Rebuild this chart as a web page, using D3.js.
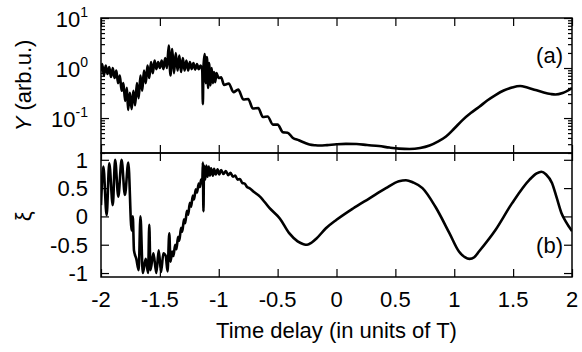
<!DOCTYPE html>
<html>
<head>
<meta charset="utf-8">
<script src="https://cdn.jsdelivr.net/npm/d3@7"></script>
<style>
    body { margin: 0; background: #fff; }
    text { font-family: "Liberation Sans", Arial, Helvetica, sans-serif; fill: #000; }
</style>
</head>
<body>
<div id="graph"></div>
<script>
// panel (a): Y (arb.u.) vs time delay, log scale
const delayA = [
    -2.00, -1.99, -1.975, -1.96, -1.945, -1.93, -1.915, -1.90, -1.885, -1.87,
    -1.855, -1.84, -1.825, -1.81, -1.795, -1.78, -1.77, -1.755, -1.74, -1.725,
    -1.71, -1.695, -1.68, -1.665, -1.65, -1.635, -1.62, -1.605, -1.59, -1.575,
    -1.56, -1.545, -1.53, -1.515, -1.50, -1.485, -1.47, -1.455, -1.44, -1.425,
    -1.41, -1.395, -1.38, -1.365, -1.35, -1.335, -1.32, -1.305, -1.29, -1.275,
    -1.26, -1.245, -1.23, -1.215, -1.20, -1.185, -1.17, -1.155, -1.14, -1.135,
    -1.13, -1.12, -1.11, -1.10, -1.09, -1.08, -1.07, -1.06, -1.05, -1.04,
    -1.03, -1.02, -1.00, -0.98, -0.955, -0.915, -0.875, -0.835, -0.79, -0.75,
    -0.71, -0.665, -0.625, -0.585, -0.54, -0.50, -0.455, -0.415, -0.37, -0.32,
    -0.27, -0.23, -0.18, -0.14, -0.08, 0.00, 0.08, 0.17, 0.26, 0.36,
    0.45, 0.53, 0.62, 0.71, 0.79, 0.86, 0.93, 1.00, 1.07, 1.14,
    1.21, 1.28, 1.35, 1.42, 1.49, 1.56, 1.62, 1.69, 1.76, 1.82,
    1.86, 1.92, 2.00
];
const yieldA = [
    0.89, 1.20, 0.71, 1.12, 0.76, 1.05, 0.66, 1.00, 0.63, 0.89,
    0.50, 0.71, 0.35, 0.50, 0.22, 0.40, 0.145, 0.32, 0.15, 0.35,
    0.18, 0.50, 0.25, 0.71, 0.35, 0.89, 0.50, 1.12, 0.63, 1.32,
    0.79, 1.41, 0.95, 1.32, 1.00, 1.41, 0.95, 1.58, 1.00, 2.8,
    0.71, 2.4, 0.79, 2.0, 0.89, 1.78, 0.83, 1.58, 0.89, 1.41,
    0.89, 1.32, 0.95, 1.26, 0.93, 1.20, 0.95, 1.12, 0.89, 0.19,
    1.00, 1.9, 0.50, 1.66, 0.40, 1.26, 0.45, 1.00, 0.50, 0.83,
    0.52, 0.79, 0.63, 0.65, 0.46, 0.49, 0.33, 0.37, 0.234, 0.24,
    0.155, 0.158, 0.105, 0.107, 0.074, 0.074, 0.052, 0.051, 0.040, 0.036,
    0.032, 0.0295, 0.0285, 0.0282, 0.0288, 0.0299, 0.0305, 0.0302, 0.0288, 0.0275,
    0.0257, 0.0245, 0.0240, 0.0251, 0.0282, 0.0339, 0.0427, 0.0617, 0.091, 0.126,
    0.166, 0.224, 0.288, 0.355, 0.407, 0.437, 0.407, 0.363, 0.324, 0.302,
    0.295, 0.316, 0.398
];

// panel (b): xi vs time delay
const delayB = [
    -2.00, -1.98, -1.952, -1.93, -1.90, -1.88, -1.853, -1.825, -1.797, -1.768,
    -1.74, -1.73, -1.72, -1.70, -1.68, -1.665, -1.645, -1.62, -1.60, -1.59,
    -1.58, -1.555, -1.53, -1.51, -1.49, -1.47, -1.45, -1.435, -1.42, -1.41,
    -1.395, -1.385, -1.37, -1.36, -1.345, -1.335, -1.32, -1.31, -1.295, -1.285,
    -1.27, -1.26, -1.245, -1.235, -1.22, -1.21, -1.195, -1.185, -1.17, -1.16,
    -1.15, -1.14, -1.135, -1.13, -1.125, -1.115, -1.105, -1.095, -1.085, -1.075,
    -1.065, -1.05, -1.04, -1.025, -1.01, -0.995, -0.98, -0.96, -0.94, -0.92,
    -0.90, -0.88, -0.86, -0.84, -0.82, -0.80, -0.78, -0.76, -0.74, -0.70,
    -0.65, -0.57, -0.48, -0.40, -0.33, -0.28, -0.25, -0.21, -0.17, -0.09,
    0.00, 0.14, 0.28, 0.42, 0.53, 0.59, 0.65, 0.73, 0.84, 0.96,
    1.04, 1.09, 1.13, 1.17, 1.21, 1.35, 1.49, 1.64, 1.70, 1.74,
    1.78, 1.83, 1.87, 1.91, 1.95, 2.00
];
const xiB = [
    0.20, 0.88, 0.02, 0.94, 0.20, 1.00, 0.35, 1.00, 0.38, 0.95,
    -0.25, 0.00, -0.60, -0.75, -0.95, 0.00, -1.00, -0.75, -1.00, -0.15,
    -0.95, -0.65, -1.00, -0.60, -0.98, -0.65, -0.70, -0.97, -0.30, -0.80,
    -0.62, -0.70, -0.50, -0.58, -0.36, -0.43, -0.20, -0.27, -0.05, -0.12,
    0.10, 0.03, 0.24, 0.17, 0.37, 0.30, 0.48, 0.42, 0.58, 0.52,
    0.65, 0.58, 0.95, 0.09, 0.90, 0.65, 0.90, 0.70, 0.88, 0.72,
    0.85, 0.72, 0.84, 0.74, 0.83, 0.74, 0.82, 0.75, 0.80, 0.73,
    0.77, 0.70, 0.72, 0.65, 0.66, 0.59, 0.58, 0.52, 0.50, 0.43,
    0.35, 0.15, -0.04, -0.30, -0.44, -0.49, -0.50, -0.46, -0.39, -0.21,
    -0.06, 0.14, 0.32, 0.50, 0.62, 0.64, 0.60, 0.50, 0.17, -0.30,
    -0.62, -0.72, -0.75, -0.72, -0.62, -0.24, 0.23, 0.65, 0.76, 0.79,
    0.74, 0.59, 0.33, 0.06, -0.10, -0.26
];

const xTicks = [-2, -1.5, -1, -0.5, 0, 0.5, 1, 1.5, 2];
const xiTicks = [-1, -0.5, 0, 0.5, 1];
const decades = [0.1, 1, 10];
const decadeLabels = ["-1", "0", "1"];

const width = 582;
const height = 352;
const plot = {left: 101, right: 572};
const panelA = {top: 18, bottom: 153};
const panelB = {top: 153, bottom: 277};
const fontSize = 22;

const svg = d3.select("#graph")
    .append("svg")
    .attr("width", width)
    .attr("height", height);

const xScale = d3.scaleLinear()
    .domain([-2, 2])
    .range([plot.left, plot.right]);

const yScaleA = d3.scaleLog()
    .domain([0.02, 10])
    .range([panelA.bottom, panelA.top]);

const yScaleB = d3.scaleLinear()
    .domain([-1.07, 1.12])
    .range([panelB.bottom, panelB.top]);

const logMinor = yScaleA.ticks().filter(d => !decades.some(p => Math.abs(d - p) < 1e-9));

// inward ticks on all four sides of a panel
const drawTicks = (panel, yScale, yMajor, yMinor) => {
    const noLabel = g => g.call(a => a.select(".domain").remove()).selectAll("text").remove();

    svg.append("g")
        .attr("transform", `translate(0, ${panel.bottom})`)
        .call(d3.axisBottom(xScale).tickValues(xTicks).tickSize(-8))
        .call(noLabel);
    svg.append("g")
        .attr("transform", `translate(0, ${panel.top})`)
        .call(d3.axisTop(xScale).tickValues(xTicks).tickSize(-8))
        .call(noLabel);

    [[d3.axisLeft, plot.left], [d3.axisRight, plot.right]].forEach(([axis, x0]) => {
        svg.append("g")
            .attr("transform", `translate(${x0}, 0)`)
            .call(axis(yScale).tickValues(yMajor).tickSize(-8))
            .call(noLabel);
        if (yMinor.length) {
            svg.append("g")
                .attr("transform", `translate(${x0}, 0)`)
                .call(axis(yScale).tickValues(yMinor).tickSize(-4))
                .call(noLabel);
        }
    });

    svg.append("rect")
        .attr("x", plot.left)
        .attr("y", panel.top)
        .attr("width", plot.right - plot.left)
        .attr("height", panel.bottom - panel.top)
        .attr("fill", "none")
        .attr("stroke", "#000")
        .attr("stroke-width", 1.5);
};

drawTicks(panelA, yScaleA, decades, logMinor);
drawTicks(panelB, yScaleB, xiTicks, []);
svg.selectAll(".tick line").attr("stroke", "#000").attr("stroke-width", 1.2);

// clip paths
[["clipA", panelA], ["clipB", panelB]].forEach(([id, p]) => {
    svg.append("clipPath").attr("id", id)
        .append("rect")
        .attr("x", plot.left)
        .attr("y", p.top)
        .attr("width", plot.right - plot.left)
        .attr("height", p.bottom - p.top);
});

const lineA = d3.line()
    .x((d, i) => xScale(delayA[i]))
    .y(d => yScaleA(d))
    .curve(d3.curveMonotoneX);

const lineB = d3.line()
    .x((d, i) => xScale(delayB[i]))
    .y(d => yScaleB(d))
    .curve(d3.curveMonotoneX);

svg.append("path")
    .datum(yieldA)
    .attr("clip-path", "url(#clipA)")
    .attr("fill", "none")
    .attr("stroke", "#000")
    .attr("stroke-width", 2.6)
    .attr("stroke-linejoin", "round")
    .attr("d", lineA);

svg.append("path")
    .datum(xiB)
    .attr("clip-path", "url(#clipB)")
    .attr("fill", "none")
    .attr("stroke", "#000")
    .attr("stroke-width", 2.6)
    .attr("stroke-linejoin", "round")
    .attr("d", lineB);

// tick labels
svg.append("g")
    .selectAll("text")
    .data(xTicks)
    .join("text")
    .attr("x", d => xScale(d))
    .attr("y", 307)
    .attr("text-anchor", "middle")
    .style("font-size", `${fontSize}px`)
    .text(d => d);

svg.append("g")
    .selectAll("text")
    .data(xiTicks)
    .join("text")
    .attr("x", 88)
    .attr("y", d => yScaleB(d) + 8)
    .attr("text-anchor", "end")
    .style("font-size", `${fontSize}px`)
    .text(d => d);

const decadeText = svg.append("g")
    .selectAll("text")
    .data(decades)
    .join("text")
    .attr("x", 88)
    .attr("y", d => yScaleA(d) + 9)
    .attr("text-anchor", "end")
    .style("font-size", `${fontSize}px`);
decadeText.append("tspan").text("10");
decadeText.append("tspan")
    .attr("dy", -10)
    .style("font-size", "14px")
    .text((d, i) => decadeLabels[i]);

// axis titles
svg.append("text")
    .attr("x", (plot.left + plot.right) / 2)
    .attr("y", 338)
    .attr("text-anchor", "middle")
    .style("font-size", `${fontSize}px`)
    .text("Time delay (in units of T)");

const yTitle = svg.append("text")
    .attr("transform", `translate(31, ${(panelA.top + panelA.bottom) / 2}) rotate(-90)`)
    .attr("text-anchor", "middle")
    .style("font-size", `${fontSize}px`);
yTitle.append("tspan").style("font-style", "italic").text("Y");
yTitle.append("tspan").text(" (arb.u.)");

svg.append("text")
    .attr("transform", `translate(31, ${yScaleB(0)}) rotate(-90)`)
    .attr("text-anchor", "middle")
    .style("font-size", `${fontSize}px`)
    .text("ξ");

svg.append("text")
    .attr("x", 563)
    .attr("y", 63)
    .attr("text-anchor", "end")
    .style("font-size", `${fontSize}px`)
    .text("(a)");

svg.append("text")
    .attr("x", 563)
    .attr("y", 253)
    .attr("text-anchor", "end")
    .style("font-size", `${fontSize}px`)
    .text("(b)");
</script>
</body>
</html>
